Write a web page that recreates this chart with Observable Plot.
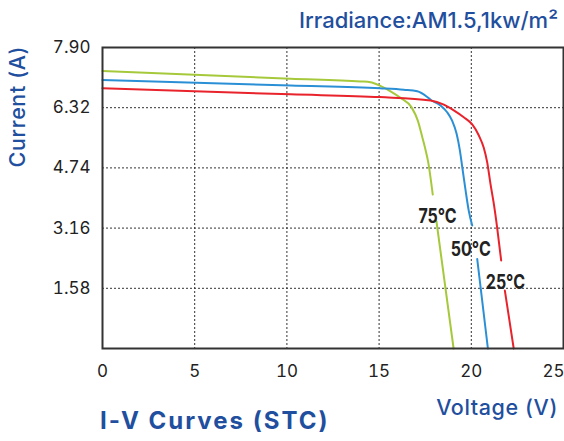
<!DOCTYPE html>
<html>
<head>
<meta charset="utf-8">
<script src="https://cdn.jsdelivr.net/npm/d3@7"></script>
<script src="https://cdn.jsdelivr.net/npm/@observablehq/plot@0.6"></script>
<style>
  html, body { margin: 0; padding: 0; background: #fff; }
  #chart { width: 564px; height: 441px; }
  svg text { font-family: Inter, "Noto Sans", sans-serif; }
</style>
</head>
<body>
<div id="chart"></div>
<script>
// ---- data ----
const xTicks = [0, 5, 10, 15, 20];
const xTicksEdge = [25];
const yTicks = [1.58, 3.16, 4.74, 6.32, 7.90];

// 75°C (green)
const v75 = [0, 10.2, 14.0, 14.53, 15.04, 15.62, 16.16, 16.76, 17.10, 17.34, 17.50, 17.66, 17.91, null, 18.11, 19.04];
const i75 = [7.28, 7.08, 7.01, 6.99, 6.90, 6.75, 6.58, 6.33, 5.98, 5.55, 5.25, 4.90, 4.04, null, 3.34, 0];
// 50°C (blue)
const v50 = [0, 10.2, 15.04, 16.34, 17.07, 17.61, 17.79, 18.33, 18.69, 18.96, 19.20, 19.38, 19.51, 19.69, 19.86, 20.05, null, 20.32, 20.9];
const i50 = [7.05, 6.90, 6.83, 6.79, 6.75, 6.60, 6.53, 6.38, 6.20, 5.98, 5.64, 5.20, 4.76, 4.15, 3.62, 3.23, null, 2.35, 0];
// 25°C (red)
const v25 = [0, 10.2, 15.04, 17.79, 18.51, 19.05, 19.59, 20.05, 20.41, 20.68, 20.86, 21.04, 21.22, 21.40, 21.62, null, 21.82, 22.3];
const i25 = [6.83, 6.67, 6.60, 6.51, 6.40, 6.25, 6.07, 5.88, 5.59, 5.26, 4.89, 4.32, 3.80, 3.18, 2.31, null, 1.52, 0];

const seriesNames = ["75°C", "50°C", "25°C"];
const seriesColors = ["#a6c93c", "#2b8fd6", "#e8232c"];
const labelV = [18.17, 19.97, 21.85];
const labelI = [3.45, 2.60, 1.74];

// ---- build table ----
const rows = [];
[[v75, i75], [v50, i50], [v25, i25]].forEach(([vs, is], k) => {
  vs.forEach((v, j) => rows.push({series: seriesNames[k], V: v == null ? NaN : v, I: is[j] == null ? NaN : is[j]}));
});
const labels = seriesNames.map((s, k) => ({series: s, V: labelV[k], I: labelI[k]}));

const plot = Plot.plot({
  width: 564,
  height: 441,
  marginLeft: 102,
  marginRight: 1,
  marginTop: 47,
  marginBottom: 93,
  style: {background: "#fff", color: "#222"},
  x: {domain: [0, 25], label: null},
  y: {domain: [0, 7.9], label: null},
  color: {domain: seriesNames, range: seriesColors},
  marks: [
    Plot.gridX([5, 10, 15, 20], {stroke: "#333", strokeOpacity: 1, strokeWidth: 1, strokeDasharray: "2,2"}),
    Plot.gridY([1.58, 3.16, 4.74, 6.32], {stroke: "#333", strokeOpacity: 1, strokeWidth: 1, strokeDasharray: "2,2"}),
    Plot.line(rows, {x: "V", y: "I", z: "series", stroke: "series", strokeWidth: 2, curve: "monotone-x"}),
    Plot.text(labels, {x: "V", y: "I", text: "series", fill: "#222", fontSize: 20, fontWeight: 700,
      fontFamily: "'Roboto Condensed', 'Liberation Sans Narrow', Roboto, sans-serif",
      textAnchor: "middle", lineAnchor: "middle", className: "templabel"}),
    Plot.frame({stroke: "#333", strokeWidth: 2}),
    Plot.axisY(yTicks, {tickSize: 0, tickPadding: 12, fontSize: 17, tickFormat: d => d.toFixed(2)}),
    Plot.axisX(xTicks, {tickSize: 0, tickPadding: 16, fontSize: 17, tickFormat: d => String(d)}),
    Plot.axisX(xTicksEdge, {tickSize: 0, tickPadding: 16, fontSize: 17, dx: -10, tickFormat: d => String(d)})
  ]
});

document.getElementById("chart").appendChild(plot);

const svg = d3.select(plot);
// condense the temperature labels horizontally around their own anchor
svg.selectAll(".templabel text").each(function() {
  const t = d3.select(this);
  const x = +t.attr("x") || 0, y = +t.attr("y") || 0;
  const prev = t.attr("transform") || "";
  t.attr("transform", `${prev} translate(${x},${y}) scale(0.8,1) translate(${-x},${-y})`);
});

const blue = "#1f4f9e";
svg.append("text").attr("x", 558).attr("y", 28).attr("text-anchor", "end")
  .attr("fill", blue).attr("font-size", 22).attr("font-weight", 500).text("Irradiance:AM1.5,1kw/m²");
svg.append("text").attr("x", 558).attr("y", 415).attr("text-anchor", "end")
  .attr("fill", blue).attr("font-size", 21.5).attr("letter-spacing", 0.6).attr("font-weight", 500).text("Voltage (V)");
svg.append("text").attr("x", 100).attr("y", 429).attr("text-anchor", "start")
  .attr("fill", blue).attr("font-size", 24).attr("letter-spacing", 2).attr("font-weight", 700).text("I-V Curves (STC)");
svg.append("text").attr("transform", "translate(25,106.7) rotate(-90)").attr("text-anchor", "middle")
  .attr("fill", blue).attr("font-size", 21.5).attr("letter-spacing", 0.6).attr("font-weight", 500).text("Current (A)");
</script>
</body>
</html>
